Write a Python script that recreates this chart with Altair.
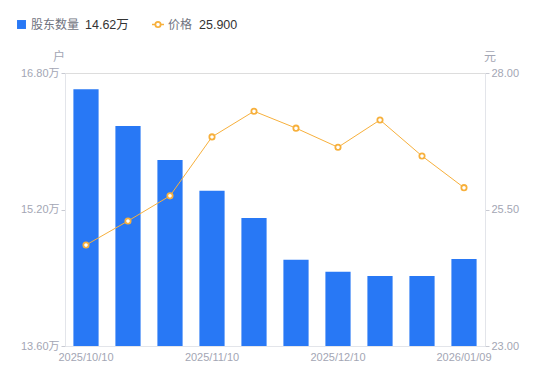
import altair as alt
import pandas as pd

dates = ["2025/10/10", "2025/10/20", "2025/10/31", "2025/11/10", "2025/11/20",
         "2025/11/28", "2025/12/10", "2025/12/19", "2025/12/31", "2026/01/09"]
holders = [16.61, 16.18, 15.78, 15.42, 15.10, 14.61, 14.47, 14.42, 14.42, 14.62]
prices = [24.85, 25.29, 25.75, 26.83, 27.30, 26.99, 26.64, 27.14, 26.48, 25.90]
shown_dates = ["2025/10/10", "2025/11/10", "2025/12/10", "2026/01/09"]
left_ticks = [13.6, 15.2, 16.8]
right_ticks = [23.0, 25.5, 28.0]
bar_base = 13.6

df = pd.DataFrame({"date": dates, "holders": holders, "price": prices})

FONT = "'Liberation Sans', 'Noto Sans CJK SC', sans-serif"
BLUE = "#2878f5"
ORANGE = "#f7b03c"
LABEL = "#a3a6b4"
AXIS = "#e3e5ea"

x = alt.X("date:N", sort=dates, title=None,
          scale=alt.Scale(paddingInner=0.4, paddingOuter=0.2),
          axis=alt.Axis(values=shown_dates, labelAngle=0, ticks=False,
                        domainColor=AXIS, labelColor=LABEL, labelFontSize=11,
                        labelPadding=5, labelFont=FONT))

bars = alt.Chart(df).mark_bar(color=BLUE).encode(
    x=x,
    y=alt.Y("holders:Q", title=None,
            scale=alt.Scale(domain=[13.6, 16.8], zero=False, nice=False),
            axis=alt.Axis(orient="left", values=left_ticks, grid=False,
                          labelExpr="format(datum.value, '.2f') + '万'",
                          domainColor=AXIS, tickColor="#c8cad2", tickSize=4,
                          labelColor=LABEL, labelFontSize=11, labelFont=FONT,
                          labelPadding=2)),
    y2=alt.datum(bar_base),
)

price_y = alt.Y("price:Q", title=None,
                scale=alt.Scale(domain=[23, 28], zero=False, nice=False),
                axis=alt.Axis(orient="right", values=right_ticks, grid=False,
                              format=".2f", domainColor=AXIS, tickColor="#c8cad2",
                              tickSize=4, labelColor=LABEL, labelFontSize=11,
                              labelFont=FONT, labelPadding=2))

line = alt.Chart(df).mark_line(color=ORANGE, strokeWidth=1).encode(x=x, y=price_y)
pts = alt.Chart(df).mark_point(shape="circle", filled=True, fill="white",
                               stroke=ORANGE, strokeWidth=1.8, size=28,
                               opacity=1).encode(x=x, y=price_y)

price_layer = alt.layer(line, pts)

one = pd.DataFrame({"k": [0]})
legend_sq = alt.Chart(one).mark_point(shape="square", filled=True, color=BLUE,
                                      size=80, opacity=1).encode(
    x=alt.value(-43.5), y=alt.value(-48.5))
legend_t1 = alt.Chart(one).mark_text(text="股东数量", align="left", baseline="middle",
                                     fontSize=12, color="#707380", font=FONT).encode(
    x=alt.value(-34), y=alt.value(-48.5))
legend_v1 = alt.Chart(one).mark_text(text="14.62万", align="left", baseline="middle",
                                     fontSize=12.5, color="#333333", font=FONT).encode(
    x=alt.value(20), y=alt.value(-48.5))
legend_ln = alt.Chart(one).mark_rule(color=ORANGE, strokeWidth=1.5).encode(
    x=alt.value(87), x2=alt.value(99), y=alt.value(-48.5))
legend_pt = alt.Chart(one).mark_point(shape="circle", filled=True, fill="white",
                                      stroke=ORANGE, strokeWidth=1.8, size=28,
                                      opacity=1).encode(
    x=alt.value(93), y=alt.value(-48.5))
legend_t2 = alt.Chart(one).mark_text(text="价格", align="left", baseline="middle",
                                     fontSize=12, color="#707380", font=FONT).encode(
    x=alt.value(103), y=alt.value(-48.5))
legend_v2 = alt.Chart(one).mark_text(text="25.900", align="left", baseline="middle",
                                     fontSize=12.5, color="#333333", font=FONT).encode(
    x=alt.value(134), y=alt.value(-48.5))
title_l = alt.Chart(one).mark_text(text="户", align="center", baseline="middle",
                                   fontSize=12, color=LABEL, font=FONT).encode(
    x=alt.value(-6), y=alt.value(-16))
title_r = alt.Chart(one).mark_text(text="元", align="center", baseline="middle",
                                   fontSize=12, color=LABEL, font=FONT).encode(
    x=alt.value(425), y=alt.value(-16))

chart = alt.layer(
    bars, price_layer,
    legend_sq, legend_t1, legend_v1, legend_ln, legend_pt, legend_t2, legend_v2,
    title_l, title_r,
).resolve_scale(y="independent").properties(
    width=420, height=273,
    autosize=alt.AutoSizeParams(type="none"),
    padding={"left": 57, "top": 65, "right": 57, "bottom": 27},
).configure_view(stroke=None).configure(font=FONT)

chart.save("out.html", embed_options={"renderer": "svg", "actions": False})
